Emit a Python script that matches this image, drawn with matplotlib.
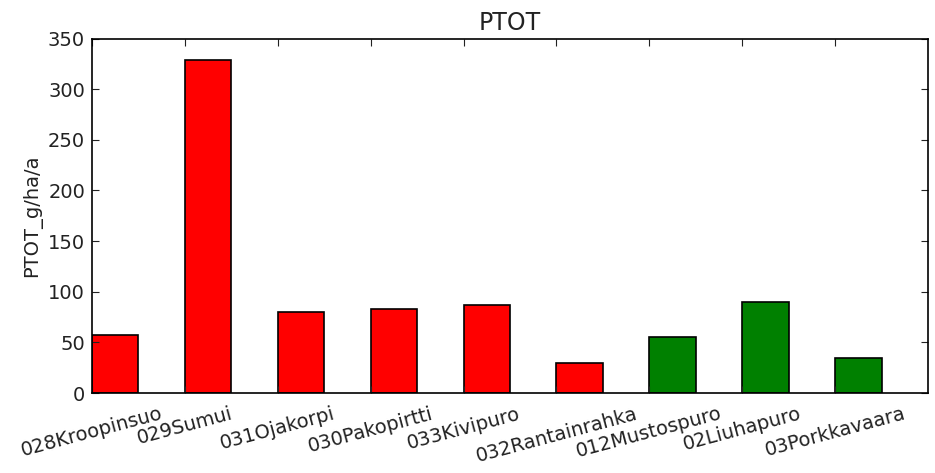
import matplotlib

matplotlib.use("Agg")
import matplotlib.pyplot as plt
import numpy as np

# PTOT load per catchment [g/ha/a]
SITES = ["028Kroopinsuo", "029Sumui", "031Ojakorpi", "030Pakopirtti",
         "033Kivipuro", "032Rantainrahka", "012Mustospuro", "02Liuhapuro",
         "03Porkkavaara"]
PTOT = [57, 329, 80, 83, 87, 30, 55, 90, 35]
COLORS = ["red"] * 6 + ["green"] * 3

BAR_W = 0.5

plt.rcParams.update({
    "font.size": 14,
    "text.color": "#222222",
    "xtick.color": "#222222",
    "ytick.color": "#222222",
    "axes.labelcolor": "#222222",
    "xtick.direction": "in",
    "ytick.direction": "in",
    "xtick.top": True,
    "ytick.right": True,
    "xtick.major.size": 4.7,
    "ytick.major.size": 4.7,
    "ytick.major.pad": 5,
    "axes.linewidth": 1.2,
})

fig = plt.figure(figsize=(9.35, 4.73), dpi=100)
ax = fig.add_axes([0.0984, 0.169, 0.8941, 0.7496])

x = np.arange(len(SITES))
ax.bar(x, PTOT, width=BAR_W, align="edge", color=COLORS,
       edgecolor="black", linewidth=1.2)

ax.set_xlim(0, len(SITES))
ax.set_ylim(0, 350)
ax.set_yticks(np.arange(0, 351, 50))
ax.set_xticks(x)
ax.set_xticklabels(SITES, rotation=15, ha="center")
ax.tick_params(axis="x", pad=8)
ax.set_ylabel("PTOT_g/ha/a")
ax.set_title("PTOT", fontsize=17)

fig.savefig("out.png", dpi=100)
plt.close(fig)
